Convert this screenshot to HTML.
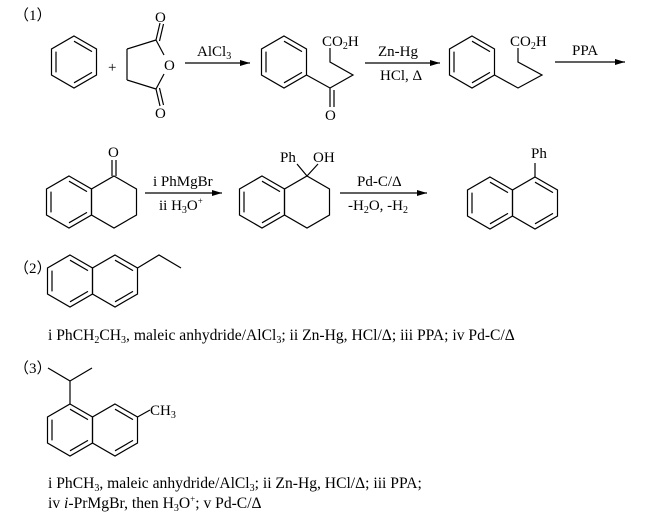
<!DOCTYPE html>
<html><head><meta charset="utf-8"><style>
html,body{margin:0;padding:0;background:#fff;}
svg{display:block;}
text{font-family:"Liberation Serif","Noto Serif CJK SC",serif;font-size:15px;fill:#000;}
.c{font-family:"Liberation Serif","Noto Sans CJK SC",serif;}
.cap{font-size:15.6px;}
</style></head><body>
<svg width="646" height="520" viewBox="0 0 646 520" xmlns="http://www.w3.org/2000/svg">
<defs>
<polygon id="h" points="0,-26 22.5,-13 22.5,13 0,26 -22.5,13 -22.5,-13"/>
<path id="d024" d="M0,-20.8L18,-10.4 M18,10.4L0,20.8 M-18,10.4L-18,-10.4"/>
<path id="d02" d="M0,-20.8L18,-10.4 M18,10.4L0,20.8"/>
<marker id="ar" markerWidth="10" markerHeight="8" refX="10" refY="4" orient="auto" markerUnits="userSpaceOnUse"><path d="M0,1L10,4L0,7z" fill="#000"/></marker>
</defs>
<g stroke="#000" stroke-width="1.2" fill="none">
<use href="#h" x="74" y="62"/><use href="#d024" x="74" y="62"/>
<path d="M127,49L127,80 M127,49L156,40 M156,40L164,55 M164,74L156,89 M156,89L127,80 M156,40L160,23 M159.5,41L163.5,24 M156,89L160,106 M159.5,88L163.5,105"/>
<line x1="185" y1="63" x2="250" y2="63" marker-end="url(#ar)"/>
<use href="#h" x="284" y="62"/><use href="#d024" x="284" y="62"/>
<path d="M306.5,75L330,88 M330,88L330,107 M334,90L334,107 M330,88L353,75 L330,62 L330,48"/>
<line x1="365" y1="63" x2="440" y2="63" marker-end="url(#ar)"/>
<use href="#h" x="472" y="62"/><use href="#d024" x="472" y="62"/>
<path d="M494.5,75L518,88 L542,75 L518,62 L518,48"/>
<line x1="555" y1="62" x2="625" y2="62" marker-end="url(#ar)"/>
<use href="#h" x="69" y="202"/><use href="#d024" x="69" y="202"/><use href="#h" x="114" y="202"/>
<path d="M112,176L112,160 M116,176L116,160"/>
<line x1="145" y1="193" x2="222" y2="193" marker-end="url(#ar)"/>
<use href="#h" x="262" y="202"/><use href="#d024" x="262" y="202"/><use href="#h" x="307" y="202"/>
<path d="M307,176L297,164 M307,176L318,164"/>
<line x1="340" y1="193" x2="427" y2="193" marker-end="url(#ar)"/>
<use href="#h" x="490" y="203"/><use href="#d024" x="490" y="203"/><use href="#h" x="535" y="203"/><use href="#d02" x="535" y="203"/>
<path d="M535,177L535,163"/>
<use href="#h" x="70" y="281"/><use href="#d024" x="70" y="281"/><use href="#h" x="115" y="281"/><use href="#d02" x="115" y="281"/>
<path d="M137.5,268L159,255 L181,268"/>
<use href="#h" x="70" y="430"/><use href="#d024" x="70" y="430"/><use href="#h" x="115" y="430"/><use href="#d02" x="115" y="430"/>
<path d="M70,404L70,381 L48,368 M70,381L92,368 M137.5,417L150,410"/>
</g>
<text class="c" x="14" y="20">（1）</text>
<text x="108" y="72">+</text>
<text x="155" y="22">O</text>
<text x="164" y="70">O</text>
<text x="155" y="118">O</text>
<text x="197" y="56">AlCl<tspan font-size="10" dy="3">3</tspan></text>
<text x="322" y="46">CO<tspan font-size="10" dy="3">2</tspan><tspan dy="-3">H</tspan></text>
<text x="325" y="120">O</text>
<text x="378" y="56">Zn-Hg</text>
<text x="380" y="80">HCl, Δ</text>
<text x="510" y="46">CO<tspan font-size="10" dy="3">2</tspan><tspan dy="-3">H</tspan></text>
<text x="572" y="55">PPA</text>
<text x="108" y="157">O</text>
<text x="153" y="186">i PhMgBr</text>
<text x="159" y="210">ii H<tspan font-size="10" dy="3">3</tspan><tspan dy="-3">O</tspan><tspan font-size="9" dy="-6">+</tspan></text>
<text x="280" y="162">Ph</text>
<text x="313" y="162">OH</text>
<text x="357" y="186">Pd-C/Δ</text>
<text x="348" y="210">-H<tspan font-size="10" dy="3">2</tspan><tspan dy="-3">O, -H</tspan><tspan font-size="10" dy="3">2</tspan></text>
<text x="531" y="158">Ph</text>
<text class="c" x="14" y="273">（2）</text>
<text class="cap" x="48" y="340">i PhCH<tspan font-size="10" dy="3">2</tspan><tspan dy="-3">CH</tspan><tspan font-size="10" dy="3">3</tspan><tspan dy="-3">, maleic anhydride/AlCl</tspan><tspan font-size="10" dy="3">3</tspan><tspan dy="-3">; ii Zn-Hg, HCl/Δ; iii PPA; iv Pd-C/Δ</tspan></text>
<text class="c" x="14" y="373">（3）</text>
<text x="150" y="415">CH<tspan font-size="10" dy="3">3</tspan></text>
<text class="cap" x="48" y="488">i PhCH<tspan font-size="10" dy="3">3</tspan><tspan dy="-3">, maleic anhydride/AlCl</tspan><tspan font-size="10" dy="3">3</tspan><tspan dy="-3">; ii Zn-Hg, HCl/Δ; iii PPA;</tspan></text>
<text class="cap" x="48" y="508">iv <tspan font-style="italic">i</tspan>-PrMgBr, then H<tspan font-size="10" dy="3">3</tspan><tspan dy="-3">O</tspan><tspan font-size="9" dy="-6">+</tspan><tspan dy="6">; v Pd-C/Δ</tspan></text>
</svg>
</body></html>
